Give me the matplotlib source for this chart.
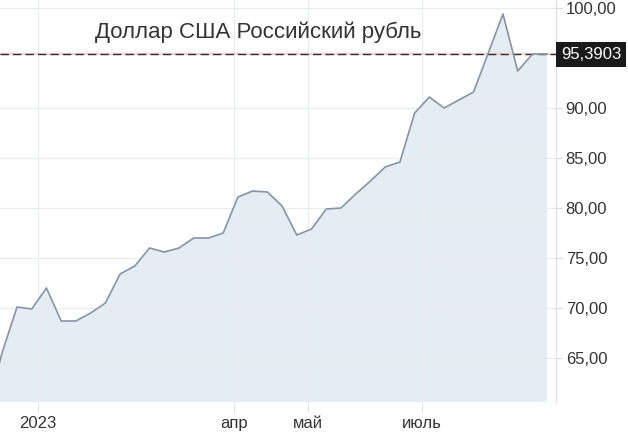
import matplotlib
matplotlib.use('Agg')
import matplotlib.pyplot as plt
import matplotlib.transforms as mtransforms

plt.rcParams['font.family'] = ['Liberation Sans', 'DejaVu Sans']

# Курс USD/RUB, недельные точки (номер недели, значение)
weeks = [-2, -1, 0, 1, 2, 3, 4, 5, 6, 7, 8, 9, 10, 11, 12, 13, 14, 15, 16,
         17, 18, 19, 20, 21, 22, 23, 24, 25, 26, 27, 28, 29, 31, 33, 34, 35, 36]
rate = [60.0, 65.6, 70.1, 69.9, 72.0, 68.7, 68.7, 69.5, 70.5, 73.4, 74.2,
        76.0, 75.6, 76.0, 77.0, 77.0, 77.5, 81.1, 81.7, 81.6, 80.2, 77.3,
        77.9, 79.9, 80.0, 81.4, 82.7, 84.1, 84.6, 89.5, 91.1, 90.0, 91.6,
        99.4, 93.7, 95.3903, 95.3903]
last_value = 95.3903

tick_pos = [1.43, 14.74, 19.77, 27.5]
tick_lbl = ['2023', 'апр', 'май', 'июль']
y_ticks = [65, 70, 75, 80, 85, 90, 100]

fig = plt.figure(figsize=(6.28, 4.32), dpi=100)
ax = fig.add_axes([0.0, 30 / 432, 556 / 628, 402 / 432])

ax.fill_between(weeks, rate, 0, color='#e4ecf4', lw=0, zorder=1)
ax.plot(weeks, rate, color='#8795a3', lw=1.2, zorder=3)

# линия текущего значения
ax.axhline(last_value, color='#ecd4d4', lw=1.6, zorder=2)
ax.axhline(last_value, color='#3a2a2a', lw=1.0, ls=(0, (6, 3)), zorder=2.5)

ax.set_xlim(-1.155, 36.6)
ax.set_ylim(60.6, 100.8)

ax.set_xticks(tick_pos)
ax.set_xticklabels(tick_lbl)
ax.set_yticks(y_ticks)
ax.set_yticklabels([('%.2f' % v).replace('.', ',') for v in y_ticks])

ax.yaxis.tick_right()
ax.tick_params(axis='y', length=4, width=0.8, color='#d8d8d8', pad=3,
               labelsize=12, labelcolor='#333333')
ax.tick_params(axis='x', length=7, width=0.8, color='#e0e0e0', pad=3,
               labelsize=12, labelcolor='#333333')

for side in ['top', 'left', 'bottom']:
    ax.spines[side].set_visible(False)
ax.spines['right'].set_color('#dcdcdc')
ax.spines['right'].set_linewidth(0.8)

ax.set_axisbelow('line')
ax.grid(True, color='#e9ecef', lw=0.8)

# метка текущего значения
trans = mtransforms.blended_transform_factory(ax.transAxes, ax.transData)
ax.annotate(('%.4f' % last_value).replace('.', ','), xy=(1.0, last_value),
            xycoords=trans, xytext=(3.5, 0), textcoords='offset points',
            ha='left', va='center', fontsize=12, color='white',
            bbox=dict(boxstyle='square,pad=0.3', fc='#1a1a1a', ec='none'),
            annotation_clip=False)

fig.text(258.5 / 628, 1 - 32 / 432, 'Доллар США Российский рубль',
         ha='center', va='center', fontsize=16, color='#333333')

fig.savefig('out.png', dpi=100)
